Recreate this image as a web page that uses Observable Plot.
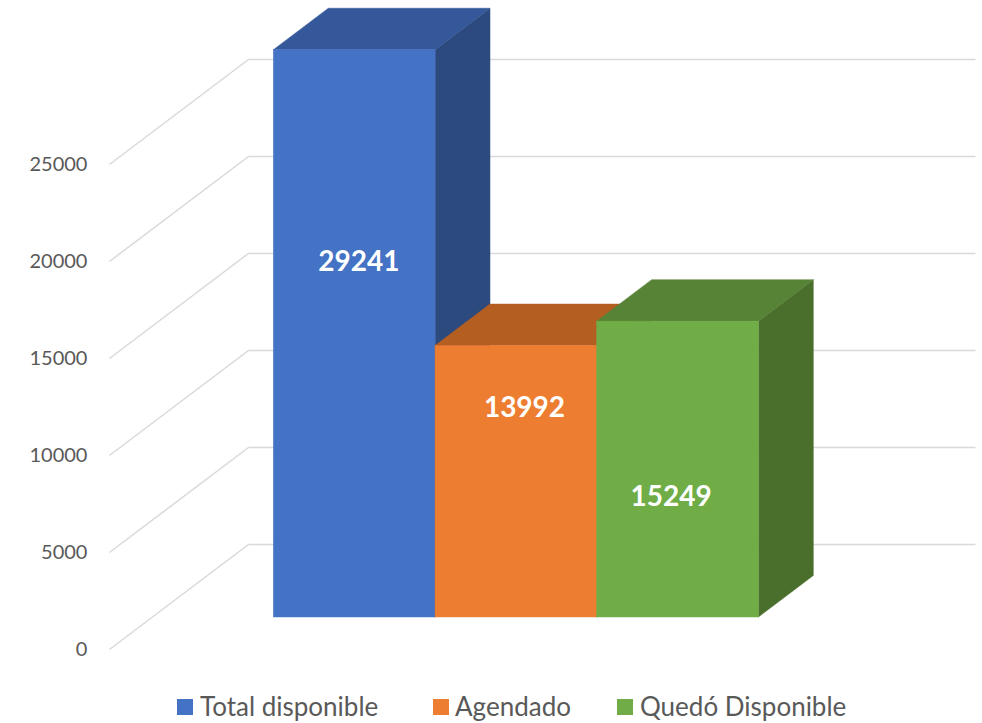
<!DOCTYPE html>
<html><head><meta charset="utf-8">
<script src="https://cdn.jsdelivr.net/npm/d3@7"></script>
<script src="https://cdn.jsdelivr.net/npm/@observablehq/plot@0.6"></script>
<style>
body{margin:0;background:#fff;}
#wrap{position:relative;width:982px;height:723px;overflow:hidden;font-family:Lato,sans-serif;background:#fff;}
#wrap svg{position:absolute;left:0;top:0;}
.lg{position:absolute;top:693px;font-size:26px;line-height:26px;color:#595959;white-space:nowrap;}
.sw{position:absolute;top:699px;width:16px;height:16px;}
</style></head><body><div id="wrap"></div>
<script>
// ---- data ----
const categories = ["Total disponible", "Agendado", "Quedó Disponible"];
const values = [29241, 13992, 15249];
const yTicks = [0, 5000, 10000, 15000, 20000, 25000];

// ---- style / layout ----
const frontColors = ["#4472C4", "#ED7D31", "#70AD47"];
const topColors   = ["#35589A", "#B45E22", "#578336"];
const sideColors  = ["#2C4A7D", "#9E521E", "#4A6F2D"];
const gridColor = "#D9D9D9";
const textColor = "#595959";
// oblique projection (in data units): depth z from 0 (front of floor) to 1 (back wall)
const U0 = -0.755, U1 = 3.742;   // floor extent, category units
const DX = 0.86, DV = 5412;      // depth vector for z: 0 -> 1
const ZF = 0.305, ZB = 0.70;     // bar front / back depth
const labelFrac = [0.626, 0.77, 0.406];
const labelShift = [0.025, 0.05, -0.043];

const bars = categories.map((c, i) => ({c, i, v: values[i]}));

const marks = [
  // side wall gridlines (diagonals)
  Plot.link(yTicks, {x1: () => U0, y1: d => d, x2: () => U0 + DX, y2: d => d + DV,
    stroke: gridColor, strokeWidth: 1.5}),
  // back wall gridlines
  Plot.link(yTicks, {x1: () => U0 + DX, y1: d => d + DV, x2: () => U1 + DX, y2: d => d + DV,
    stroke: gridColor, strokeWidth: 1.5}),
  // tick labels
  Plot.text(yTicks, {x: () => U0, y: d => d, text: d => String(d), textAnchor: "end", dx: -22,
    fontSize: 20, fill: textColor})
];

bars.forEach(b => {
  const i = b.i, v = b.v;
  marks.push(Plot.areaY([
      {x: i + 1 + ZF * DX, y1: ZF * DV, y2: v + ZF * DV},
      {x: i + 1 + ZB * DX, y1: ZB * DV, y2: v + ZB * DV}
    ], {x: "x", y1: "y1", y2: "y2", fill: sideColors[i], stroke: sideColors[i], strokeWidth: 0.5}));
  marks.push(Plot.areaX([
      {y: v + ZF * DV, x1: i + ZF * DX, x2: i + 1 + ZF * DX},
      {y: v + ZB * DV, x1: i + ZB * DX, x2: i + 1 + ZB * DX}
    ], {y: "y", x1: "x1", x2: "x2", fill: topColors[i], stroke: topColors[i], strokeWidth: 0.5}));
  marks.push(Plot.rect([b], {x1: d => d.i + ZF * DX, x2: d => d.i + 1 + ZF * DX,
    y1: () => ZF * DV, y2: d => d.v + ZF * DV, fill: frontColors[i], stroke: frontColors[i], strokeWidth: 0.5}));
});

marks.push(Plot.text(bars, {
  x: d => d.i + 0.5 + ZF * DX + labelShift[d.i],
  y: d => d.v * labelFrac[d.i] + ZF * DV,
  text: d => String(d.v), fill: "white", fontWeight: "bold", fontSize: 28
}));

const chart = Plot.plot({
  width: 982, height: 690,
  x: {type: "linear", domain: [0, 3], range: [231, 716], axis: null},
  y: {type: "linear", domain: [0, 25000], range: [649, 164], axis: null},
  style: {fontFamily: "Lato, sans-serif", background: "white", overflow: "visible"},
  marks
});
const wrap = document.getElementById("wrap");
wrap.appendChild(chart);

// legend
const swLeft = [177, 433, 617], txLeft = [200, 455, 640];
categories.forEach((c, i) => {
  const s = document.createElement("div");
  s.className = "sw"; s.style.left = swLeft[i] + "px"; s.style.background = frontColors[i];
  wrap.appendChild(s);
  const t = document.createElement("div");
  t.className = "lg"; t.style.left = txLeft[i] + "px"; t.textContent = c;
  wrap.appendChild(t);
});
</script></body></html>
